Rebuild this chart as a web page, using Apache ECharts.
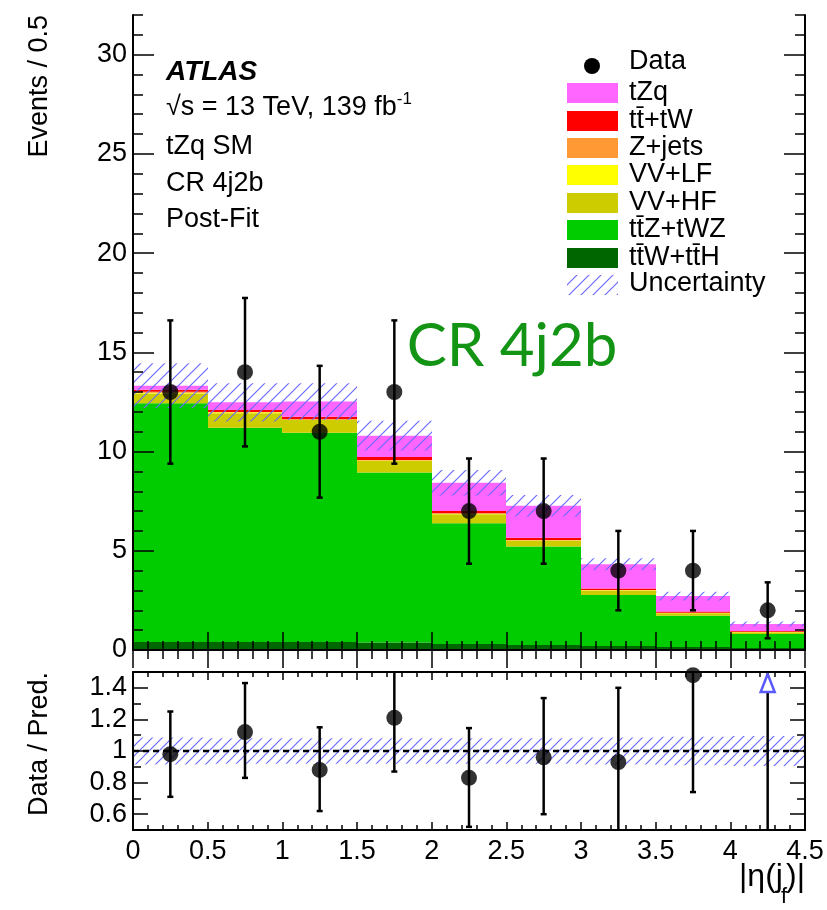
<!DOCTYPE html>
<html>
<head>
<meta charset="utf-8">
<script src="https://cdn.jsdelivr.net/npm/echarts@6/dist/echarts.min.js"></script>
<style>
  html, body { margin: 0; padding: 0; background: #fff; }
  #chart { width: 827px; height: 910px; }
</style>
</head>
<body>
<div id="chart"></div>
<script>
// Binning of |eta(j_f)|
const binEdges = [0, 0.5, 1, 1.5, 2, 2.5, 3, 3.5, 4, 4.5];
const binCenters = [0.25, 0.75, 1.25, 1.75, 2.25, 2.75, 3.25, 3.75, 4.25];

// Post-fit yields per process (stacked bottom to top)
const ttWttH  = [0.40, 0.40, 0.40, 0.38, 0.30, 0.25, 0.20, 0.15, 0.10];
const ttZtWZ  = [12.03, 10.80, 10.55, 8.56, 6.09, 4.96, 2.57, 1.58, 0.71];
const vvHF    = [0.50, 0.73, 0.64, 0.59, 0.45, 0.28, 0.22, 0.12, 0.08];
const vvLF    = [0.04, 0.05, 0.02, 0.02, 0.03, 0.03, 0.02, 0.02, 0.02];
const zJets   = [0.04, 0.02, 0.02, 0.02, 0.02, 0.02, 0.01, 0.01, 0.01];
const ttbarTW = [0.10, 0.10, 0.12, 0.15, 0.12, 0.12, 0.08, 0.06, 0.04];
const tZq     = [0.21, 0.38, 0.77, 1.08, 1.42, 1.61, 1.22, 0.78, 0.35];
const totalUnc = [1.13, 0.96, 0.92, 0.75, 0.64, 0.54, 0.30, 0.22, 0.12];

// Observed data
const dataCounts = [13, 14, 11, 13, 7, 7, 4, 4, 2];
const dataErr    = [3.61, 3.74, 3.32, 3.61, 2.65, 2.65, 2.00, 2.00, 1.41];

// Data / prediction
const ratioVals = [0.98, 1.12, 0.88, 1.21, 0.83, 0.96, 0.93, 1.48, 1.53];
const ratioLo   = [0.71, 0.83, 0.62, 0.87, 0.52, 0.60, 0.46, 0.74, 0.45];
const ratioHi   = [1.25, 1.43, 1.15, 1.54, 1.145, 1.335, 1.40, 2.21, 2.60];
const ratioUnc  = [0.085, 0.08, 0.08, 0.08, 0.08, 0.08, 0.085, 0.09, 0.095];

// Axis ticks
const xTickLabels = [0, 0.5, 1, 1.5, 2, 2.5, 3, 3.5, 4, 4.5];
const yTickLabels = [0, 5, 10, 15, 20, 25, 30];
const ratioTickLabels = [0.6, 0.8, 1, 1.2, 1.4];

const processNames  = ['ttW+ttH', 'ttZ+tWZ', 'VV+HF', 'VV+LF', 'Z+jets', 'tt+tW', 'tZq'];
const processYields = [ttWttH, ttZtWZ, vvHF, vvLF, zJets, ttbarTW, tZq];
const processColors = ['#006600', '#00cc00', '#cccc00', '#ffff00', '#ff9933', '#ff0000', '#ff66ff'];

const FONT = '"Liberation Sans", Arial, Helvetica, sans-serif';

function hatchCanvas(size, color) {
  const c = document.createElement('canvas');
  c.width = size; c.height = size;
  const ctx = c.getContext('2d');
  ctx.strokeStyle = color;
  ctx.lineWidth = 1.2;
  ctx.beginPath();
  ctx.moveTo(0, size); ctx.lineTo(size, 0);
  ctx.moveTo(-2, 2); ctx.lineTo(2, -2);
  ctx.moveTo(size - 2, size + 2); ctx.lineTo(size + 2, size - 2);
  ctx.stroke();
  return c;
}
const hatchMain = hatchCanvas(12, '#6a6aff');
const hatchRatio = hatchCanvas(10, '#6a6aff');

// Text width helper for composing the axis title with a subscript
const measureCtx = document.createElement('canvas').getContext('2d');
function textWidth(str, font) { measureCtx.font = font; return measureCtx.measureText(str).width; }

// Pixel-snapped rectangle between two data corners
function binRect(api, fill) {
  const p0 = api.coord([api.value(0), api.value(3)]);
  const p1 = api.coord([api.value(1), api.value(2)]);
  const x0 = Math.round(p0[0]), x1 = Math.round(p1[0]);
  return { type: 'rect', shape: { x: x0, y: p0[1], width: x1 - x0, height: p1[1] - p0[1] },
           style: { fill: fill } };
}

// Stacked histogram series built from the yield arrays
const stackSeries = [];
const running = binCenters.map(() => 0);
processYields.forEach((vals, k) => {
  const data = vals.map((v, i) => {
    const base = running[i];
    running[i] = base + v;
    return [binEdges[i], binEdges[i + 1], base, base + v];
  });
  const color = processColors[k];
  stackSeries.push({
    type: 'custom', name: processNames[k],
    xAxisIndex: 0, yAxisIndex: 0, z: 2,
    encode: { x: [0, 1], y: [2, 3] },
    data: data,
    renderItem: function (params, api) { return binRect(api, color); }
  });
});
const totals = running.slice();

function errorBarItem(api, x, lo, hi, capHalf) {
  const pLo = api.coord([x, lo]);
  const pHi = api.coord([x, hi]);
  const st = { stroke: '#000', lineWidth: 2.5 };
  return [
    { type: 'line', shape: { x1: pLo[0], y1: pLo[1], x2: pHi[0], y2: pHi[1] }, style: st },
    { type: 'line', shape: { x1: pLo[0] - capHalf, y1: pLo[1], x2: pLo[0] + capHalf, y2: pLo[1] }, style: st },
    { type: 'line', shape: { x1: pHi[0] - capHalf, y1: pHi[1], x2: pHi[0] + capHalf, y2: pHi[1] }, style: st }
  ];
}

const chart = echarts.init(document.getElementById('chart'), null, { renderer: 'canvas' });

const axisLineStyle = { show: true, lineStyle: { color: '#000', width: 2 } };
function xAxisDef(grid, pos, labels, majorLen, minorLen) {
  return {
    type: 'value', gridIndex: grid, position: pos, min: 0, max: 4.5, interval: 0.5, z: 10,
    axisLine: axisLineStyle,
    axisTick: { show: true, inside: true, length: majorLen, lineStyle: { color: '#000', width: 1.5 } },
    minorTick: { show: true, splitNumber: 5, length: minorLen, lineStyle: { color: '#000', width: 1.5 } },
    splitLine: { show: false }, minorSplitLine: { show: false },
    axisLabel: labels ? { show: true, fontFamily: FONT, fontSize: 27, color: '#000', margin: 8,
      showMinLabel: true, showMaxLabel: true,
      customValues: xTickLabels } : { show: false }
  };
}
function yAxisDef(grid, pos, min, max, majorVals, labels, majorLen) {
  return {
    type: 'value', gridIndex: grid, position: pos, min: min, max: max, z: 10,
    axisLine: axisLineStyle,
    axisTick: { show: true, inside: true, length: majorLen, customValues: majorVals, lineStyle: { color: '#000', width: 1.5 } },
    splitLine: { show: false },
    axisLabel: labels ? { show: true, fontFamily: FONT, fontSize: 27, color: '#000', margin: 6,
      customValues: majorVals } : { show: false }
  };
}
function yMinorDef(grid, pos, min, max, step, len) {
  return {
    type: 'value', gridIndex: grid, position: pos, min: min, max: max, interval: step, z: 10,
    axisLine: { show: false },
    axisTick: { show: true, inside: true, length: len, lineStyle: { color: '#000', width: 1.5 } },
    splitLine: { show: false }, axisLabel: { show: false }
  };
}

function label(text, x, y, font, extra) {
  return { type: 'text', x: x, y: y, z: 20,
    style: Object.assign({ text: text, font: font, fill: '#000', align: 'left', verticalAlign: 'middle',
      textAlign: 'left', textVerticalAlign: 'middle' }, extra || {}) };
}

const legendRows = [
  { name: 'tZq', color: '#ff66ff', y: 93 },
  { name: 'tt\u0304+tW', color: '#ff0000', y: 121 },
  { name: 'Z+jets', color: '#ff9933', y: 148 },
  { name: 'VV+LF', color: '#ffff00', y: 175 },
  { name: 'VV+HF', color: '#cccc00', y: 203 },
  { name: 'tt\u0304Z+tWZ', color: '#00cc00', y: 230 },
  { name: 'tt\u0304W+tt\u0304H', color: '#006600', y: 258 }
];
const LEG_FONT = '27px ' + FONT;
const legendEls = [];
legendEls.push({ type: 'circle', shape: { cx: 592, cy: 66, r: 8 }, style: { fill: '#000' }, z: 20 });
legendEls.push(label('Data', 629, 62, LEG_FONT));
legendRows.forEach(r => {
  legendEls.push({ type: 'rect', shape: { x: 567, y: r.y - 10, width: 51, height: 20 }, style: { fill: r.color }, z: 20 });
  legendEls.push(label(r.name, 629, r.y, LEG_FONT));
});
legendEls.push({ type: 'rect', shape: { x: 567, y: 275, width: 51, height: 20 }, style: { fill: { image: hatchMain, repeat: 'repeat' } }, z: 20 });
legendEls.push(label('Uncertainty', 629, 284, LEG_FONT));

const TXT_FONT = '27px ' + FONT;

// x-axis title |eta(j_f)|, right-aligned to the frame edge
const XT_FONT = '32px ' + FONT, XT_SUB = '22px ' + FONT;
const xtRight = 805;
const xt3 = xtRight - textWidth(')|', XT_FONT);
const xt2 = xt3 - textWidth('f', XT_SUB) + 1;
const xt1 = xt2 - textWidth('|η(j', XT_FONT) + 2;
const xTitleEls = [
  label('|η(j', xt1, 877, XT_FONT),
  label('f', xt2, 897, XT_SUB),
  label(')|', xt3, 877, XT_FONT)
];

const option = {
  animation: false,
  backgroundColor: '#fff',
  grid: [
    { left: 133, top: 15, width: 672, height: 635 },
    { left: 133, top: 672, width: 672, height: 158 }
  ],
  xAxis: [
    xAxisDef(0, 'bottom', false, 18, 9),
    xAxisDef(0, 'top', false, 18, 9),
    xAxisDef(1, 'bottom', true, 8, 5),
    xAxisDef(1, 'top', false, 8, 5)
  ],
  yAxis: [
    yAxisDef(0, 'left', 0, 32, yTickLabels, true, 21),
    yMinorDef(0, 'left', 0, 32, 1, 10),
    yAxisDef(0, 'right', 0, 32, yTickLabels, false, 21),
    yMinorDef(0, 'right', 0, 32, 1, 10),
    yAxisDef(1, 'left', 0.5, 1.5, ratioTickLabels, true, 15),
    yMinorDef(1, 'left', 0.5, 1.5, 0.1, 8),
    yAxisDef(1, 'right', 0.5, 1.5, ratioTickLabels, false, 15),
    yMinorDef(1, 'right', 0.5, 1.5, 0.1, 8)
  ],
  graphic: { elements: [
    { type: 'text', x: 40, y: 15, rotation: Math.PI / 2, z: 20,
      style: { text: 'Events / 0.5', font: '27px ' + FONT, fill: '#000', align: 'right', verticalAlign: 'middle', textAlign: 'right', textVerticalAlign: 'middle' } },
    { type: 'text', x: 40, y: 672, rotation: Math.PI / 2, z: 20,
      style: { text: 'Data / Pred.', font: '27px ' + FONT, fill: '#000', align: 'right', verticalAlign: 'middle', textAlign: 'right', textVerticalAlign: 'middle' } },
    label('ATLAS', 166, 72, 'italic bold 28px ' + FONT),
    { type: 'text', x: 166, y: 106, z: 20,
      style: { text: '{m|√s = 13 TeV, 139 fb}{p|-1}', fill: '#000', align: 'left', verticalAlign: 'middle', textAlign: 'left', textVerticalAlign: 'middle',
        rich: {
          m: { font: TXT_FONT, fill: '#000', lineHeight: 30, verticalAlign: 'bottom' },
          p: { font: '17px ' + FONT, fill: '#000', lineHeight: 17, verticalAlign: 'top' }
        } } },
    label('tZq SM', 166, 147, TXT_FONT),
    label('CR 4j2b', 166, 184, TXT_FONT),
    label('Post-Fit', 166, 220, TXT_FONT),
    { type: 'text', x: 512, y: 377, z: 20,
      style: { text: 'CR 4j2b', font: '60px Lato, "Open Sans", sans-serif', fill: '#149414', align: 'center', verticalAlign: 'bottom', textAlign: 'center', textVerticalAlign: 'bottom' } }
  ].concat(xTitleEls, legendEls) },
  series: stackSeries.concat([
    {
      type: 'custom', name: 'Uncertainty', xAxisIndex: 0, yAxisIndex: 0, z: 3,
      encode: { x: [0, 1], y: [2, 3] },
      data: totals.map((t, i) => [binEdges[i], binEdges[i + 1], t - totalUnc[i], t + totalUnc[i]]),
      renderItem: function (params, api) { return binRect(api, { image: hatchMain, repeat: 'repeat' }); }
    },
    {
      type: 'custom', name: 'Data errors', xAxisIndex: 0, yAxisIndex: 0, z: 4,
      encode: { x: 0, y: [1, 2] },
      data: binCenters.map((c, i) => [c, dataCounts[i] - dataErr[i], dataCounts[i] + dataErr[i]]),
      renderItem: function (params, api) {
        return { type: 'group', children: errorBarItem(api, api.value(0), api.value(1), api.value(2), 3) };
      }
    },
    {
      type: 'scatter', name: 'Data', xAxisIndex: 0, yAxisIndex: 0, z: 5,
      symbol: 'circle', symbolSize: 16, itemStyle: { color: '#000' },
      data: binCenters.map((c, i) => [c, dataCounts[i]])
    },
    {
      type: 'custom', name: 'Ratio uncertainty', xAxisIndex: 2, yAxisIndex: 4, z: 3,
      encode: { x: [0, 1], y: [2, 3] },
      data: ratioUnc.map((u, i) => [binEdges[i], binEdges[i + 1], 1 - u, 1 + u]),
      renderItem: function (params, api) { return binRect(api, { image: hatchRatio, repeat: 'repeat' }); }
    },
    {
      type: 'line', name: 'Unity', xAxisIndex: 2, yAxisIndex: 4, z: 4, symbol: 'none',
      lineStyle: { color: '#000', width: 2.5, type: [6, 4] },
      data: [[0, 1], [4.5, 1]]
    },
    {
      type: 'custom', name: 'Ratio errors', xAxisIndex: 2, yAxisIndex: 4, z: 5, clip: true,
      encode: { x: 0, y: [1, 2, 3] },
      data: binCenters.map((c, i) => [c, ratioLo[i], ratioHi[i], ratioVals[i]]),
      renderItem: function (params, api) {
        const x = api.value(0);
        const children = errorBarItem(api, x, api.value(1), api.value(2), 3);
        if (api.value(3) > 1.5) {
          // out-of-range marker: hollow arrow at the top edge
          const top = api.coord([x, 1.5]);
          children.push({ type: 'polygon', shape: { points: [[top[0], top[1] + 2], [top[0] - 7, top[1] + 20], [top[0] + 7, top[1] + 20]] },
                          style: { fill: '#fff', stroke: '#5a5aff', lineWidth: 2.5 } });
        }
        return { type: 'group', children: children };
      }
    },
    {
      type: 'scatter', name: 'Ratio', xAxisIndex: 2, yAxisIndex: 4, z: 6, clip: true,
      symbol: 'circle', symbolSize: 16, itemStyle: { color: '#000' },
      data: binCenters.map((c, i) => [c, ratioVals[i]]).filter(p => p[1] <= 1.5)
    }
  ])
};
chart.setOption(option);
</script>
</body>
</html>
